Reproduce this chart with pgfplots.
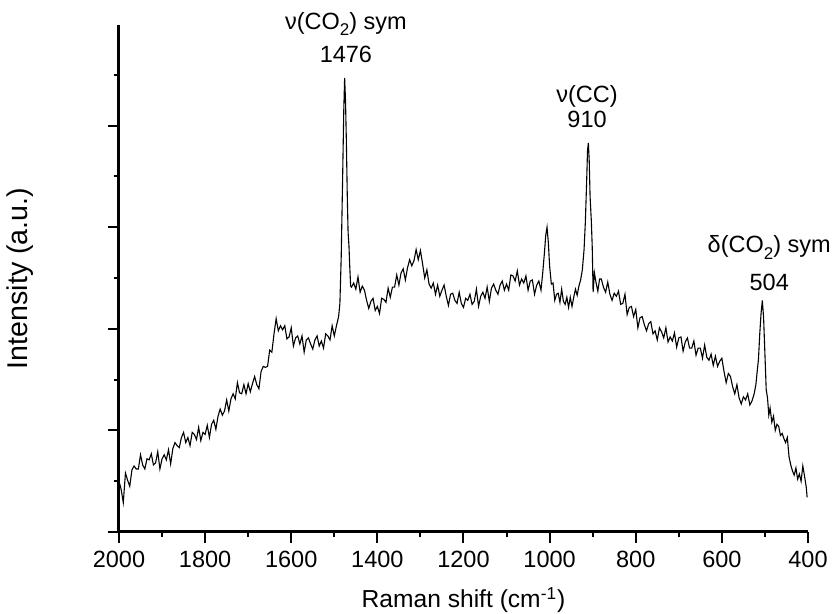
\documentclass[border=0pt]{standalone}
\usepackage{pgfplots}
\pgfplotsset{compat=1.18}
\usepackage{fontspec}
\setmainfont{Liberation Sans}
\newcommand{\sub}[1]{\raisebox{-0.55ex}{\fontsize{8.5}{9}\selectfont #1}}
\begin{document}
\fontsize{11.75}{14}\selectfont
\begin{tikzpicture}
\begin{axis}[
  scale only axis, width=344.5pt, height=253.5pt,
  x dir=reverse, xmin=400, xmax=2000, ymin=0, ymax=4.99,
  axis lines*=left,
  axis line style={line width=1.5pt},
  tick align=outside,
  major tick length=5.5pt, minor tick length=2.5pt,
  every tick/.style={line width=1pt, black},
  xtick={400,600,...,2000}, minor xtick={500,700,...,1900},
  ytick={0,1,2,3,4}, minor ytick={0.5,1.5,...,4.5}, yticklabels={},
  /pgf/number format/assume math mode=true,
  /pgf/number format/set thousands separator={},
  xticklabel style={font=\fontsize{11.75}{14}\selectfont},
  every axis x label/.style={at={(axis description cs:0.5,0)}, anchor=center, yshift=-34pt, font=\fontsize{12.3}{14}\selectfont},
  every axis y label/.style={at={(axis description cs:-0.1437,0.5)}, rotate=90, anchor=center, font=\fontsize{14.3}{16}\selectfont},
  xlabel={Raman shift (cm\textsuperscript{-1})},
  ylabel={Intensity (a.u.)},
  clip=false,
]
\addplot[black, line width=0.55pt] table {
2000 0.50
1995 0.42
1990 0.29
1985 0.58
1980 0.51
1975 0.45
1970 0.61
1965 0.65
1960 0.62
1955 0.62
1950 0.76
1945 0.66
1940 0.62
1935 0.72
1930 0.71
1925 0.77
1920 0.66
1915 0.68
1910 0.79
1905 0.62
1900 0.72
1895 0.76
1890 0.71
1885 0.81
1880 0.67
1875 0.82
1870 0.88
1865 0.85
1860 0.83
1855 0.93
1850 0.98
1845 0.88
1840 0.93
1835 0.85
1830 0.98
1825 0.96
1820 0.91
1815 1.03
1810 0.90
1805 0.98
1800 0.96
1795 1.05
1790 0.93
1785 1.06
1780 1.10
1775 1.01
1770 1.14
1765 1.21
1760 1.15
1755 1.19
1750 1.30
1745 1.19
1740 1.31
1735 1.36
1730 1.31
1725 1.47
1720 1.37
1715 1.36
1710 1.45
1705 1.36
1700 1.46
1695 1.38
1690 1.46
1685 1.53
1680 1.45
1675 1.41
1670 1.58
1665 1.63
1660 1.62
1655 1.63
1650 1.79
1645 1.77
1640 1.95
1635 2.10
1630 1.98
1625 2.03
1620 1.99
1615 2.03
1610 1.90
1605 1.92
1600 2.01
1595 1.83
1590 1.91
1585 1.93
1580 1.85
1575 1.93
1570 1.77
1565 1.89
1560 1.91
1555 1.85
1550 1.80
1545 1.89
1540 1.93
1535 1.83
1530 1.88
1525 1.81
1520 1.95
1515 1.93
1510 1.89
1505 2.03
1500 1.93
1495 2.03
1490 2.12
1487 2.25
1484 2.70
1481 3.40
1478 4.15
1476 4.47
1474 4.25
1472 3.85
1470 3.34
1468 2.95
1466 2.82
1464 2.60
1462 2.42
1460 2.41
1455 2.45
1450 2.39
1445 2.51
1440 2.36
1435 2.42
1430 2.38
1425 2.28
1420 2.20
1415 2.27
1410 2.30
1405 2.18
1400 2.22
1395 2.15
1390 2.30
1385 2.29
1380 2.26
1375 2.40
1370 2.31
1365 2.41
1360 2.41
1355 2.53
1350 2.43
1345 2.55
1340 2.59
1335 2.48
1330 2.60
1325 2.68
1320 2.62
1315 2.67
1310 2.78
1305 2.68
1300 2.77
1295 2.64
1290 2.50
1285 2.58
1280 2.44
1275 2.40
1270 2.45
1265 2.34
1260 2.43
1255 2.32
1250 2.38
1245 2.43
1240 2.32
1235 2.23
1230 2.34
1225 2.35
1220 2.28
1215 2.25
1210 2.36
1205 2.25
1200 2.21
1195 2.30
1190 2.28
1185 2.34
1180 2.24
1175 2.27
1170 2.39
1165 2.22
1160 2.32
1155 2.36
1150 2.30
1145 2.41
1140 2.27
1135 2.40
1130 2.44
1125 2.38
1120 2.34
1115 2.43
1110 2.47
1105 2.38
1100 2.44
1095 2.38
1090 2.53
1085 2.52
1080 2.47
1075 2.57
1070 2.43
1065 2.49
1060 2.45
1055 2.52
1050 2.38
1045 2.47
1040 2.48
1035 2.34
1030 2.43
1025 2.47
1020 2.38
1016 2.55
1012 2.75
1009 2.92
1006 3.00
1003 2.85
1000 2.62
996 2.44
992 2.45
988 2.28
984 2.34
980 2.35
976 2.26
972 2.39
968 2.27
964 2.24
960 2.31
956 2.21
952 2.31
948 2.22
944 2.31
940 2.39
936 2.33
932 2.42
928 2.48
924 2.58
920 2.78
917 3.05
914 3.45
912 3.75
910 3.83
908 3.65
906 3.30
903 3.05
901 2.80
899 2.36
896 2.55
892 2.45
888 2.37
884 2.49
880 2.49
875 2.41
870 2.36
865 2.46
860 2.34
855 2.28
850 2.35
845 2.32
840 2.37
835 2.24
830 2.25
825 2.34
820 2.14
815 2.21
810 2.22
805 2.12
800 2.19
795 2.01
790 2.11
785 2.12
780 2.04
775 1.98
770 2.05
765 2.07
760 1.95
755 1.98
750 1.89
745 2.01
740 1.97
735 1.91
730 2.01
725 1.87
720 1.92
715 1.88
710 1.96
705 1.82
700 1.91
695 1.92
690 1.78
685 1.87
680 1.91
675 1.81
670 1.81
665 1.88
660 1.74
655 1.81
650 1.81
645 1.71
640 1.84
635 1.72
630 1.69
625 1.75
620 1.64
615 1.73
610 1.63
605 1.68
600 1.71
595 1.58
590 1.47
585 1.56
580 1.53
575 1.43
570 1.36
565 1.45
560 1.32
555 1.26
550 1.33
545 1.30
540 1.36
535 1.25
530 1.29
525 1.36
521 1.45
518 1.58
515 1.70
512 1.95
509 2.15
506 2.28
503 2.10
500 1.75
497 1.40
494 1.32
491 1.15
488 1.22
484 1.08
480 1.14
476 1.00
472 1.06
468 1.04
464 0.95
460 0.97
456 0.92
452 0.88
448 0.93
444 0.74
440 0.66
436 0.60
432 0.56
428 0.63
424 0.52
420 0.57
416 0.50
412 0.65
408 0.55
404 0.44
402 0.34
};
\node[anchor=center] at (axis cs:1473,5.00) {ν(CO\sub{2}) sym};
\node[anchor=center] at (axis cs:1473,4.70) {1476};
\node[anchor=center] at (axis cs:913,4.29) {ν(CC)};
\node[anchor=center] at (axis cs:913,4.06) {910};
\node[anchor=center] at (axis cs:490,2.80) {δ(CO\sub{2}) sym};
\node[anchor=center] at (axis cs:490,2.46) {504};
\end{axis}
\pgfresetboundingbox
\path (current axis.south west) ++(-59.5pt,-41pt) rectangle ++(416pt,307pt);
\end{tikzpicture}
\end{document}
